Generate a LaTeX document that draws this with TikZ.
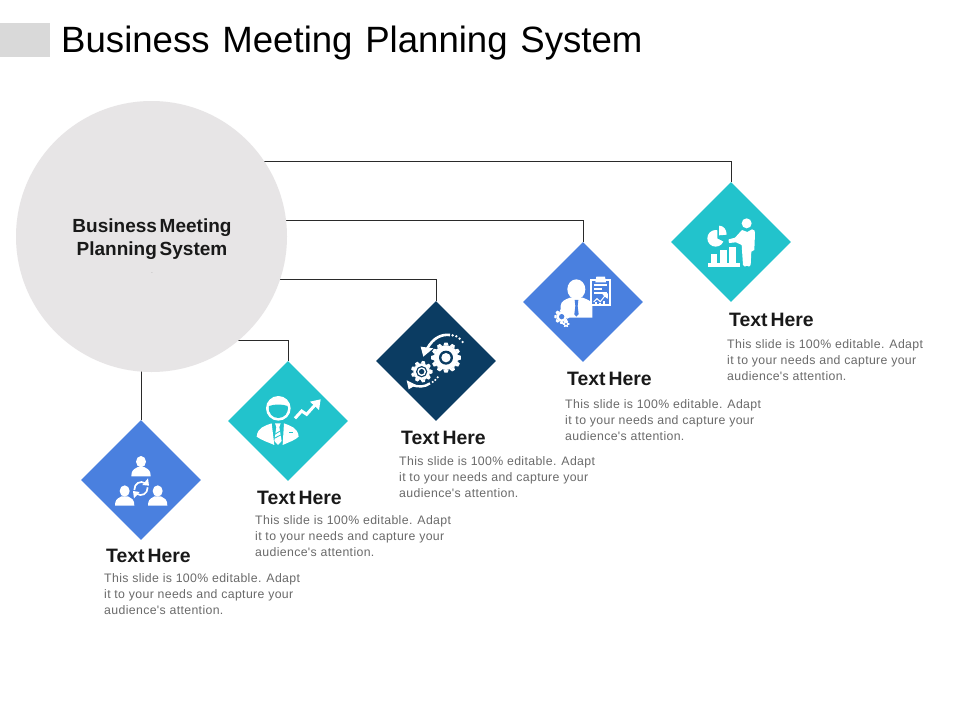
\documentclass[tikz,border=0pt]{standalone}
\usepackage{fontspec}
\setmainfont{Liberation Sans}
\newfontfamily\titlef[WordSpace=1.25]{Liberation Sans}
\newfontfamily\bodyf[LetterSpace=2.9]{Liberation Sans}
\newcommand{\tg}{\hspace{-2.5pt}}
\usetikzlibrary{shapes.geometric}
\definecolor{tealc}{HTML}{22C3CC}
\definecolor{bluec}{HTML}{4A80DF}
\definecolor{navyc}{HTML}{0B3C62}
\definecolor{circc}{HTML}{E7E5E6}
\definecolor{hdrc}{HTML}{D9D9D9}
\definecolor{bodyc}{HTML}{6A6A6A}
\definecolor{linec}{HTML}{2A2A2A}
\tikzset{
  dia/.style={diamond,minimum width=120pt,minimum height=120pt,inner sep=0pt,aspect=1},
  conn/.style={draw=linec,line width=.7pt},
  headt/.style={anchor=west,inner sep=0pt,font=\fontsize{19.4}{21}\selectfont\bfseries,text=black!90},
  bodyt/.style={anchor=west,inner sep=0pt,align=left,text=bodyc,font=\bodyf\fontsize{12.3}{16}\selectfont},
  ic/.style={x=.3333pt,y=-.3333pt}
}
\newcommand{\mygear}[6]{% x y outer teeth inner-bg toothlength
  \fill[white] (#1,#2) circle[radius=#3];
  \foreach \a in {0,1,...,#4}{
    \fill[white,shift={(#1,#2)},rotate=\a*360/#4]
      (#3-1,-#6) -- (#3+#6,-#6*.6) -- (#3+#6,#6*.6) -- (#3-1,#6) -- cycle;
  }
  \fill[#5] (#1,#2) circle[radius=#3*.5];
}
\newcommand{\myperson}[2]{% x y
  \begin{scope}[shift={(#1,#2)},ic]
    \fill[white] (0,-12) ellipse[x radius=15,y radius=17];
    \fill[white] (-29,32) -- (-28,22) .. controls (-26,10) and (-14,8) .. (-10,4) -- (10,4)
       .. controls (14,8) and (26,10) .. (28,22) -- (29,32) -- cycle;
  \end{scope}
}
\begin{document}
\begin{tikzpicture}[x=1pt,y=-1pt]
\useasboundingbox (0,0) rectangle (960,720);
\fill[white] (0,0) rectangle (960,720);
\fill[hdrc] (0,23) rectangle (50,57);
\node[anchor=west,inner sep=0pt,font=\titlef\fontsize{36.6}{40}\selectfont] (title) at (61,43.5) {Business Meeting Planning System};

% connectors
\coordinate (j5) at (260,161);
\coordinate (j4) at (280,220);
\coordinate (j3) at (275,279);
\coordinate (j2) at (235,340);
\coordinate (j1) at (141,368);

\node[dia,fill=tealc] (d5) at (731,242) {};
\node[dia,fill=bluec] (d4) at (583,302) {};
\node[dia,fill=navyc] (d3) at (436,361) {};
\node[dia,fill=tealc] (d2) at (288,421) {};
\node[dia,fill=bluec] (d1) at (141,480) {};

\draw[conn] (j5) -| (d5.north);
\draw[conn] (j4) -| (d4.north);
\draw[conn] (j3) -| (d3.north);
\draw[conn] (j2) -| (d2.north);
\draw[conn] (j1) -- (d1.north);

\node[circle,fill=circc,minimum size=271pt,inner sep=0pt] (hub) at (151.5,236.5) {};
\node[inner sep=0pt,align=center,font=\fontsize{19}{23}\selectfont\bfseries,text=black!90] (hubt) at (152,239) {Business\tg{} Meeting\\Planning\tg{} System};
\node[inner sep=0pt,font=\fontsize{5}{6}\selectfont,text=bodyc] (dot) at (152,273) {.};

% texts
\node[headt] (h5) at (729,320) {Text\tg{} Here};
\node[bodyt] (b5) at (727,360) {This slide is 100\% editable. Adapt\\it to your needs and capture your\\audience's attention.};
\node[headt] (h4) at (567,379) {Text\tg{} Here};
\node[bodyt] (b4) at (565,420) {This slide is 100\% editable. Adapt\\it to your needs and capture your\\audience's attention.};
\node[headt] (h3) at (401,438) {Text\tg{} Here};
\node[bodyt] (b3) at (399,477) {This slide is 100\% editable. Adapt\\it to your needs and capture your\\audience's attention.};
\node[headt] (h2) at (257,498) {Text\tg{} Here};
\node[bodyt] (b2) at (255,536) {This slide is 100\% editable. Adapt\\it to your needs and capture your\\audience's attention.};
\node[headt] (h1) at (106,556) {Text\tg{} Here};
\node[bodyt] (b1) at (104,594) {This slide is 100\% editable. Adapt\\it to your needs and capture your\\audience's attention.};

% icon 5: presenter
\begin{scope}[shift={(660,170)},ic]
  \fill[white] (260,160) circle[radius=15];
  \fill[white] (246,180) -- (262,186) -- (276,178) .. controls (283,179) and (286,183) .. (285,190)
     -- (283,240) -- (274,245) -- (272,285) .. controls (270,291) and (264,291) .. (261,287)
     .. controls (258,291) and (251,291) .. (249,285) -- (245,225) -- (228,217) -- (207,219) -- (203,209) -- (225,203) -- cycle;
  \fill[white] (167,205) circle[radius=25];
  \fill[tealc] (172,205) -- (172,174) -- (206,174) -- (206,222) -- cycle;
  \fill[white] (177,167) .. controls (190,167) and (200,178) .. (200,194) -- (177,196) -- cycle;
  \fill[white] (152,252) rectangle (172,282);
  \fill[white] (180,240) rectangle (200,282);
  \fill[white] (208,232) rectangle (228,282);
  \fill[white] (143,280) rectangle (240,291);
\end{scope}

% icon 4: manager + clipboard
\begin{scope}[shift={(515,235)},ic]
  \fill[white] (184,163) ellipse[x radius=27,y radius=30];
  \fill[white] (138,248) -- (137,212) .. controls (138,198) and (150,194) .. (165,188) -- (203,188)
     .. controls (218,194) and (232,198) .. (232,212) -- (232,248) -- cycle;
  \fill[bluec] (179,195) -- (190,195) -- (188,213) -- (191,238) -- (184,245) -- (178,238) -- (181,213) -- cycle;
  \draw[white,line width=1.7pt] (228,135) rectangle (285,211);
  \fill[white] (244,125) -- (270,125) -- (273,142) -- (241,142) -- cycle;
  \fill[white] (238,146) rectangle (276,152);
  \fill[white] (238,158) rectangle (262,164);
  \fill[white] (238,170) rectangle (276,176);
  \draw[white,line width=1pt] (236,201) -- (246,191) -- (256,200) -- (270,182);
  \fill[white] (262,178) -- (279,175) -- (278,192) -- cycle;
  \fill[white] (240,200) rectangle (246,209);
  \fill[white] (251,203) rectangle (257,209);
  \fill[white] (263,197) rectangle (269,209);
  \mygear{140}{245}{16}{8}{bluec}{6}
  \mygear{153}{267}{7}{6}{bluec}{3}
\end{scope}

% icon 3: gears
\begin{scope}[shift={(370,295)},ic]
  \mygear{228}{188}{37}{12}{navyc}{8}
  \fill[navyc] (228,188) circle[radius=21];
  \fill[white] (228,188) circle[radius=14];
  \mygear{155}{230}{25}{9}{navyc}{7}
  \fill[navyc] (155,230) circle[radius=17];
  \fill[white] (155,230) circle[radius=13];
  \fill[navyc] (155,230) circle[radius=8];
  \draw[white,line width=2.6pt] (240,120) .. controls (215,117) and (190,128) .. (172,160);
  \fill[white] (152,155) -- (190,160) -- (160,185) -- cycle;
  \fill[white] (248,121) circle[radius=4] (259,124) circle[radius=4] (269,131) circle[radius=4] (278,141) circle[radius=4];
  \draw[white,line width=2.4pt] (180,265) .. controls (165,276) and (145,278) .. (122,268);
  \fill[white] (110,256) -- (116,283) -- (138,270) -- cycle;
  \fill[white] (188,261) circle[radius=3.5] (196,255) circle[radius=3.5] (203,247) circle[radius=3.5];
\end{scope}

% icon 2: smiling manager + growth arrow
\begin{scope}[shift={(220,355)},ic]
  \fill[white] (175,160) circle[radius=37];
  \fill[tealc] (147,153) .. controls (165,147) and (185,147) .. (203,153)
     .. controls (207,175) and (192,189) .. (175,189) .. controls (158,189) and (143,175) .. (147,153) -- cycle;
  \fill[white] (155,205) .. controls (135,212) and (112,218) .. (110,245) .. controls (125,256) and (145,262) .. (163,270) -- cycle;
  \fill[white] (192,205) .. controls (210,212) and (234,218) .. (236,245) .. controls (225,256) and (205,262) .. (188,270) -- cycle;
  \fill[tealc] (208,230) rectangle (220,234);
  \fill[white] (165,205) -- (182,205) -- (178,216) -- (185,258) -- (174,270) -- (163,258) -- (169,216) -- cycle;
  \draw[tealc,line width=.8pt] (164,238) -- (184,226) (163,250) -- (186,238);
  \draw[white,line width=3pt] (225,190) -- (245,168) -- (260,178) -- (285,150);
  \fill[white] (270,140) -- (302,133) -- (297,165) -- cycle;
\end{scope}

% icon 1: team cycle
\begin{scope}[shift={(75,415)}]
  \myperson{66}{50.67}
  \myperson{49.67}{80}
  \myperson{82.67}{80}
\end{scope}
\begin{scope}[shift={(75,415)},ic]
  \draw[white,line width=1.7pt] (178,225) .. controls (178,205) and (195,195) .. (212,205);
  \draw[white,line width=1.7pt] (218,217) .. controls (218,237) and (200,246) .. (184,236);
  \fill[white] (219,190) -- (222,212) -- (202,210) -- cycle;
  \fill[white] (177,250) -- (174,228) -- (194,231) -- cycle;
\end{scope}
\end{tikzpicture}
\end{document}
